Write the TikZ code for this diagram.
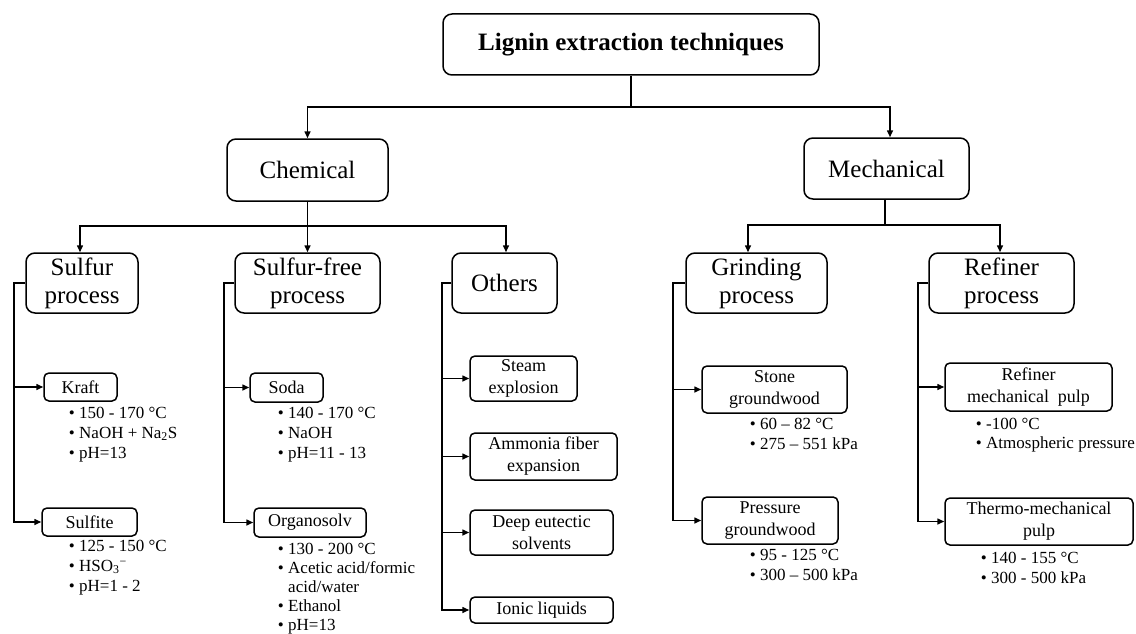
\documentclass[tikz,border=0pt]{standalone}
\usepackage{fontspec}
\setmainfont{Liberation Serif}
\usetikzlibrary{arrows.meta}
\begin{document}
\begin{tikzpicture}[x=1pt,y=-1pt,
  line width=1.5pt,
  bigbox/.style={draw, rounded corners=9pt, align=center, inner sep=0pt,
    font=\fontsize{25}{28}\selectfont},
  smallbox/.style={draw, rounded corners=5pt, align=center, inner sep=0pt,
    font=\fontsize{18}{22}\selectfont},
  bul/.style={anchor=base west, inner sep=0pt, font=\fontsize{17}{20.3}\selectfont},
  arr/.style={-{Triangle[length=7pt,width=6pt]}}]
\fill[white] (0,0) rectangle (1136,634);
\useasboundingbox (0,0) rectangle (1136,634);
\newcommand{\blist}[1]{\begin{tabular}[t]{@{}l@{\hspace{4.5pt}}l@{}}#1\end{tabular}}

% level 0-1
\node[bigbox, minimum width=376pt, minimum height=61pt, font=\fontsize{25}{28}\selectfont\bfseries] (top) at (631,44.5) {Lignin extraction techniques};
\node[bigbox, minimum width=161pt, minimum height=62pt] (chem) at (307.5,170) {Chemical};
\node[bigbox, minimum width=165pt, minimum height=61pt] (mech) at (886.5,168.5) {Mechanical};

% level 2
\node[bigbox, minimum width=112pt, minimum height=60pt] (sulfur) at (82,283) {Sulfur\\process};
\node[bigbox, minimum width=145pt, minimum height=60pt] (sfree) at (307.5,283) {Sulfur-free\\process};
\node[bigbox, minimum width=105pt, minimum height=60pt] (others) at (504.5,283) {Others};
\node[bigbox, minimum width=141pt, minimum height=60pt] (grind) at (756.5,283) {Grinding\\process};
\node[bigbox, minimum width=145pt, minimum height=60pt] (refiner) at (1001.5,283) {Refiner\\process};

% level 3
\node[smallbox, minimum width=73pt, minimum height=28pt] (kraft) at (80.5,387) {Kraft};
\node[smallbox, minimum width=95pt, minimum height=28pt] (sulfite) at (89.5,522) {Sulfite};
\node[smallbox, minimum width=73pt, minimum height=29pt] (soda) at (286.5,387.5) {Soda};
\node[smallbox, minimum width=112pt, minimum height=29pt] (organo) at (310,522.5) {Organosolv};
\node[smallbox, minimum width=107pt, minimum height=45pt] (steam) at (523.5,378.5) {Steam\\explosion};
\node[smallbox, minimum width=147pt, minimum height=47pt] (ammonia) at (543.5,456.5) {Ammonia fiber\\expansion};
\node[smallbox, minimum width=143pt, minimum height=45pt] (deep) at (541.5,532.5) {Deep eutectic\\solvents};
\node[smallbox, minimum width=143pt, minimum height=26pt] (ionic) at (541.5,610) {Ionic liquids};
\node[smallbox, minimum width=145pt, minimum height=47pt] (stone) at (774.5,389.5) {Stone\\groundwood};
\node[smallbox, minimum width=136pt, minimum height=47pt] (pressure) at (770,520.5) {Pressure\\groundwood};
\node[smallbox, minimum width=167pt, minimum height=48pt] (rmp) at (1028.5,387) {Refiner\\mechanical\ \ pulp};
\node[smallbox, minimum width=188pt, minimum height=47pt] (tmp) at (1039,521.5) {Thermo-mechanical\\pulp};

% bullet lists
\node[bul] (kraftb) at (68,418) {\blist{• & 150 - 170 °C\\ • & NaOH + Na\textsubscript{2}S\\ • & pH=13}};
\node[bul] (sulfiteb) at (68,551) {\blist{• & 125 - 150 °C\\ • & HSO\textsubscript{3}\textsuperscript{−}\\ • & pH=1 - 2}};
\node[bul] (sodab) at (277,418) {\blist{• & 140 - 170 °C\\ • & NaOH\\ • & pH=11 - 13}};
\node[bul, font=\fontsize{17}{19}\selectfont] (organob) at (277,554) {\blist{• & 130 - 200 °C\\ • & Acetic acid/formic\\ & acid/water\\ • & Ethanol\\ • & pH=13}};
\node[bul] (stoneb) at (749,429) {\blist{• & 60 – 82 °C\\ • & 275 – 551 kPa}};
\node[bul] (pressureb) at (749,560) {\blist{• & 95 - 125 °C\\ • & 300 – 500 kPa}};
\node[bul, font=\fontsize{17}{19.5}\selectfont] (rmpb) at (975,429) {\blist{• & -100 °C\\ • & Atmospheric pressure}};
\node[bul] (tmpb) at (980,563) {\blist{• & 140 - 155 °C\\ • & 300 - 500 kPa}};

% connectors: top
\coordinate (tb) at (631,107);
\draw (top.south) -- (tb);
\draw[arr] (tb) -| (chem.north);
\draw[arr] (tb) -| ([xshift=3.5pt]mech.north);

% chemical
\coordinate (cb) at (307.5,226);
\draw (chem.south) -- (cb);
\draw[arr] (cb) -| ([xshift=-2pt]sulfur.north);
\draw[arr] (cb) -- (sfree.north);
\draw[arr] (cb) -| ([xshift=1.5pt]others.north);

% mechanical
\coordinate (mb) at (885,225);
\draw (mech.south -| mb) -- (mb);
\draw[arr] (mb) -| ([xshift=-8.5pt]grind.north);
\draw[arr] (mb) -| ([xshift=-1.5pt]refiner.north);

% sulfur side line
\coordinate (sl) at (14,283);
\draw[arr] (sulfur.west) -- (sl) |- (sulfite.west);
\draw[arr] (sl |- kraft.west) -- (kraft.west);

% sulfur-free side line
\coordinate (fl) at (224,283);
\draw[arr] (sfree.west) -- (fl) |- (organo.west);
\draw[arr] (fl |- soda.west) -- (soda.west);

% others side line
\coordinate (ol) at (442,283);
\draw[arr] (others.west) -- (ol) |- (ionic.west);
\draw[arr] (ol |- steam.west) -- (steam.west);
\draw[arr] (ol |- ammonia.west) -- (ammonia.west);
\draw[arr] (ol |- deep.west) -- (deep.west);

% grinding side line
\coordinate (gl) at (673,283);
\draw[arr] (grind.west) -- (gl) |- (pressure.west);
\draw[arr] (gl |- stone.west) -- (stone.west);

% refiner side line
\coordinate (rl) at (918,283);
\draw[arr] (refiner.west) -- (rl) |- (tmp.west);
\draw[arr] (rl |- rmp.west) -- (rmp.west);
\end{tikzpicture}
\end{document}
